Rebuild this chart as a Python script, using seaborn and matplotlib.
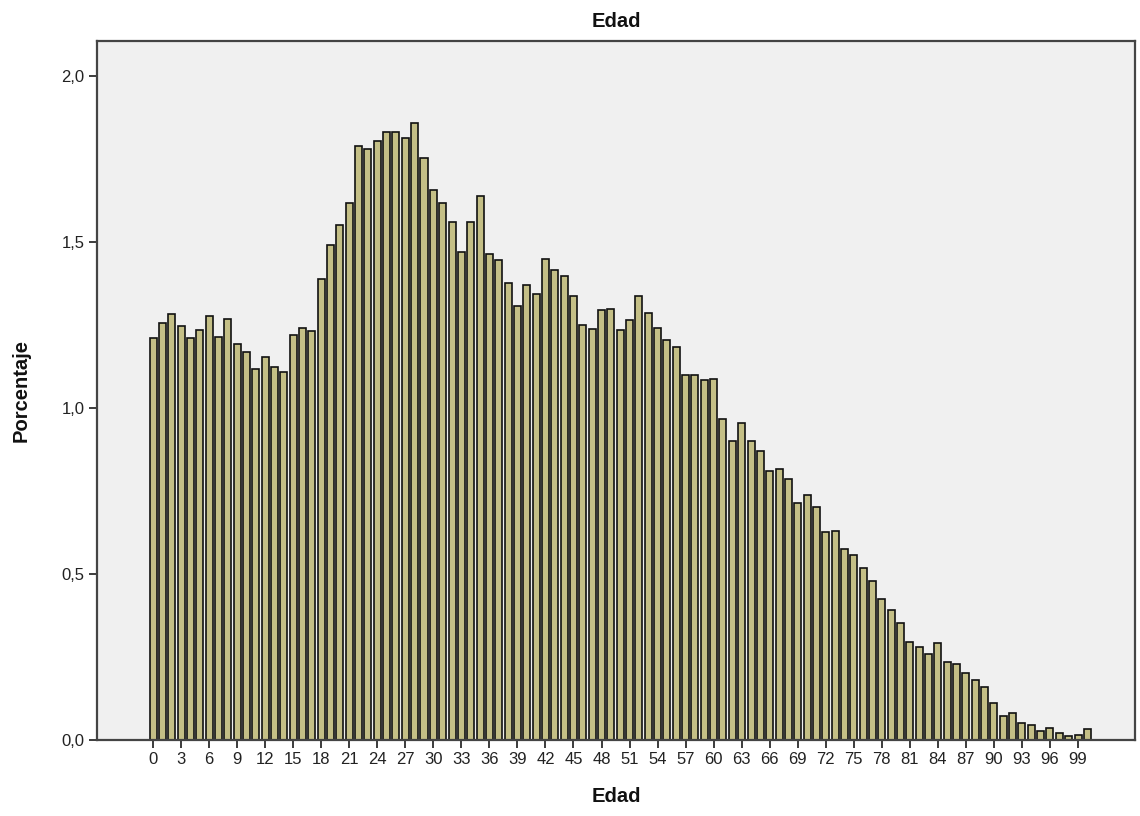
import matplotlib
matplotlib.use("Agg")
import matplotlib.pyplot as plt
import seaborn as sns
import pandas as pd
from matplotlib.ticker import FuncFormatter

ages = list(range(0, 101))
percentages = [
    1.21, 1.257, 1.282, 1.248, 1.211, 1.234, 1.277, 1.214, 1.268, 1.193,
    1.168, 1.117, 1.152, 1.124, 1.107, 1.219, 1.241, 1.231, 1.388, 1.491,
    1.552, 1.617, 1.788, 1.779, 1.804, 1.83, 1.83, 1.812, 1.857, 1.754,
    1.656, 1.618, 1.56, 1.47, 1.559, 1.637, 1.463, 1.444, 1.377, 1.307,
    1.37, 1.344, 1.447, 1.414, 1.397, 1.336, 1.25, 1.237, 1.294, 1.297,
    1.234, 1.266, 1.337, 1.287, 1.24, 1.206, 1.183, 1.10, 1.10, 1.084,
    1.088, 0.967, 0.901, 0.956, 0.900, 0.869, 0.809, 0.816, 0.785, 0.714,
    0.739, 0.701, 0.626, 0.629, 0.575, 0.557, 0.517, 0.48, 0.424, 0.39,
    0.352, 0.295, 0.281, 0.258, 0.292, 0.236, 0.23, 0.202, 0.18, 0.159,
    0.112, 0.072, 0.081, 0.052, 0.044, 0.028, 0.035, 0.02, 0.013, 0.014,
    0.034,
]
tick_ages = list(range(0, 100, 3))
y_ticks = [0.0, 0.5, 1.0, 1.5, 2.0]

df = pd.DataFrame({"Edad": ages, "Porcentaje": percentages})

sns.set_style("white")
plt.rcParams["font.family"] = ["Liberation Sans", "DejaVu Sans"]

fig = plt.figure(figsize=(11.4, 8.16), dpi=100)
fig.patch.set_facecolor("white")
ax = fig.add_axes([97 / 1140, 1 - 740 / 816, (1135 - 97) / 1140, (740 - 41) / 816])
ax.set_facecolor("#F0F0F0")

sns.barplot(data=df, x="Edad", y="Porcentaje", color="#C4BF86", width=0.75,
            edgecolor="#111111", linewidth=1.2, saturation=1, ax=ax, order=ages)

ax.set_xlim(-6.0, 105.1)
ax.set_ylim(0, 2.105)
ax.set_xticks(tick_ages)
ax.set_xticklabels([str(a) for a in tick_ages])
ax.set_yticks(y_ticks)
ax.yaxis.set_major_formatter(FuncFormatter(lambda v, p: f"{v:.1f}".replace(".", ",")))

ax.tick_params(axis="both", which="major", direction="out", length=6, width=1.4,
               color="#3C3C3C", labelsize=12, labelcolor="#222222", pad=3,
               bottom=True, left=True)
for s in ax.spines.values():
    s.set_visible(True)
    s.set_color("#444444")
    s.set_linewidth(1.6)

ax.set_title("Edad", fontsize=14.5, fontweight="bold", pad=10, color="#111111")
ax.set_xlabel("Edad", fontsize=14.5, fontweight="bold", labelpad=14, color="#111111")
ax.set_ylabel("Porcentaje", fontsize=14.5, fontweight="bold", labelpad=22, color="#111111")

fig.savefig("out.png", dpi=100, facecolor="white")
